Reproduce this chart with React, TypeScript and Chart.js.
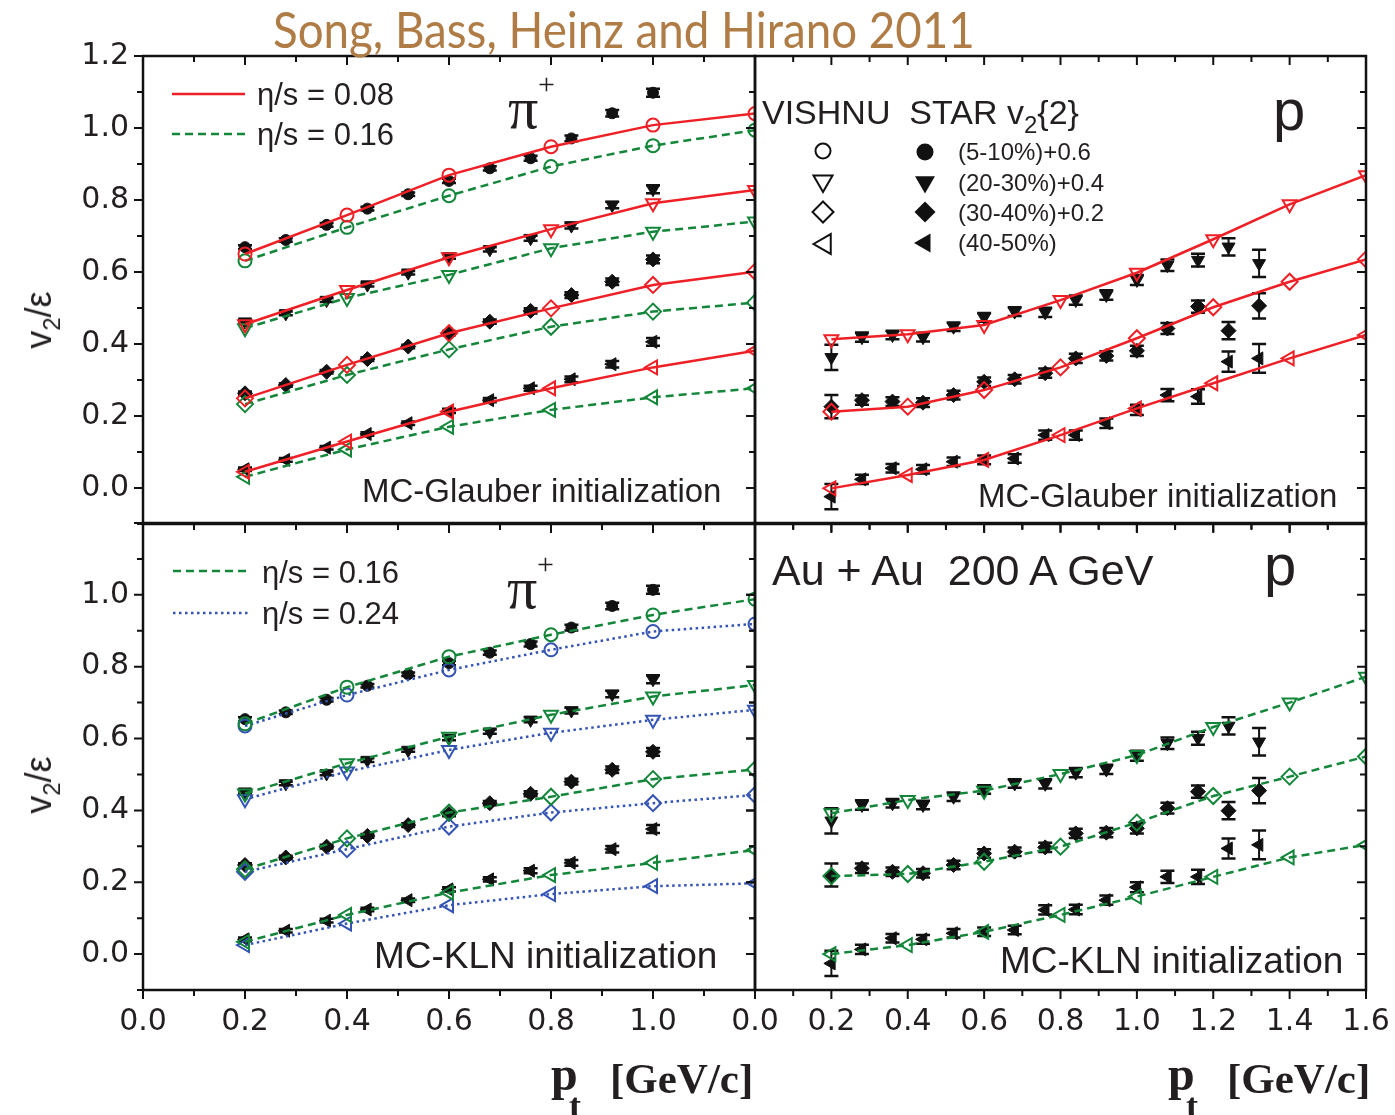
import React, { useEffect, useLayoutEffect, useRef, useState } from 'react';
import { Chart, registerables } from 'chart.js';
Chart.register(...registerables);

// ---------- x values ----------
const piHydroX = [0.2, 0.4, 0.6, 0.8, 1.0, 1.2];
const pHydroX = [0.2, 0.4, 0.6, 0.8, 1.0, 1.2, 1.4, 1.6];
const piStarX = [0.2, 0.28, 0.36, 0.44, 0.52, 0.6, 0.68, 0.76, 0.84, 0.92, 1.0];
const pStarX = [0.2, 0.28, 0.36, 0.44, 0.52, 0.6, 0.68, 0.76, 0.84, 0.92, 1.0, 1.08, 1.16, 1.24, 1.32];

// ---------- tick labels / tick marks ----------
const yTickLabelsTop = [0, 0.2, 0.4, 0.6, 0.8, 1.0, 1.2];
const yTickLabelsBottom = [0, 0.2, 0.4, 0.6, 0.8, 1.0];
const xTickLabelsLeft = [0, 0.2, 0.4, 0.6, 0.8, 1.0];
const xTickLabelsRight = [0, 0.2, 0.4, 0.6, 0.8, 1.0, 1.2, 1.4, 1.6];
const yTickMarks = [-0.1, 0, 0.1, 0.2, 0.3, 0.4, 0.5, 0.6, 0.7, 0.8, 0.9, 1.0, 1.1, 1.2];
const xTickMarksLeft = [0, 0.1, 0.2, 0.3, 0.4, 0.5, 0.6, 0.7, 0.8, 0.9, 1.0, 1.1, 1.2];
const xTickMarksRight = [0, 0.1, 0.2, 0.3, 0.4, 0.5, 0.6, 0.7, 0.8, 0.9, 1.0, 1.1, 1.2, 1.3, 1.4, 1.5, 1.6];

// ---------- MC-Glauber, pi+ ----------
const gPiStarC = [0.669, 0.689, 0.731, 0.776, 0.816, 0.853, 0.888, 0.916, 0.971, 1.041, 1.098];
const gPiStarT = [0.462, 0.485, 0.522, 0.565, 0.598, 0.643, 0.663, 0.694, 0.729, 0.786, 0.830];
const gPiStarD = [0.263, 0.286, 0.323, 0.358, 0.393, 0.430, 0.462, 0.492, 0.536, 0.573, 0.635];
const gPiStarL = [0.052, 0.078, 0.112, 0.150, 0.180, 0.214, 0.244, 0.277, 0.302, 0.344, 0.406];
const gPi08C = [0.650, 0.758, 0.869, 0.948, 1.008, 1.040];
const gPi08T = [0.455, 0.550, 0.641, 0.719, 0.791, 0.828];
const gPi08D = [0.249, 0.342, 0.430, 0.499, 0.564, 0.601];
const gPi08L = [0.045, 0.129, 0.212, 0.277, 0.335, 0.381];
const gPi16C = [0.631, 0.724, 0.812, 0.893, 0.951, 0.994];
const gPi16T = [0.444, 0.528, 0.592, 0.666, 0.712, 0.740];
const gPi16D = [0.233, 0.314, 0.385, 0.448, 0.490, 0.515];
const gPi16L = [0.031, 0.107, 0.170, 0.217, 0.252, 0.277];

// ---------- MC-Glauber, protons ----------
const gPStarT = [0.363, 0.419, 0.425, 0.419, 0.448, 0.474, 0.490, 0.488, 0.522, 0.536, 0.578, 0.619, 0.633, 0.670, 0.624];
const gPStarD = [0.226, 0.244, 0.240, 0.237, 0.258, 0.295, 0.302, 0.319, 0.360, 0.367, 0.381, 0.443, 0.504, 0.437, 0.506];
const gPStarL = [-0.024, 0.024, 0.055, 0.052, 0.073, 0.078, 0.082, 0.147, 0.147, 0.180, 0.217, 0.258, 0.254, 0.351, 0.360];
const gP08T = [0.413, 0.427, 0.453, 0.522, 0.598, 0.691, 0.788, 0.869];
const gP08D = [0.212, 0.226, 0.272, 0.335, 0.416, 0.502, 0.573, 0.635];
const gP08L = [-0.001, 0.036, 0.078, 0.147, 0.221, 0.291, 0.360, 0.425];

// ---------- MC-KLN, pi+ ----------
const kPiStarC = [0.654, 0.673, 0.708, 0.747, 0.779, 0.810, 0.839, 0.863, 0.909, 0.969, 1.014];
const kPiStarT = [0.452, 0.475, 0.503, 0.540, 0.568, 0.601, 0.619, 0.652, 0.678, 0.724, 0.765];
const kPiStarD = [0.248, 0.269, 0.299, 0.329, 0.359, 0.390, 0.420, 0.446, 0.480, 0.513, 0.563];
const kPiStarL = [0.041, 0.065, 0.093, 0.124, 0.150, 0.180, 0.208, 0.232, 0.254, 0.292, 0.348];
const kPi16C = [0.641, 0.743, 0.828, 0.889, 0.944, 0.988];
const kPi16T = [0.447, 0.531, 0.605, 0.666, 0.717, 0.749];
const kPi16D = [0.236, 0.322, 0.394, 0.438, 0.487, 0.514];
const kPi16L = [0.034, 0.109, 0.171, 0.220, 0.254, 0.290];
const kPi24C = [0.635, 0.721, 0.791, 0.847, 0.898, 0.919];
const kPi24T = [0.431, 0.508, 0.568, 0.616, 0.652, 0.680];
const kPi24D = [0.229, 0.292, 0.355, 0.394, 0.420, 0.443];
const kPi24L = [0.025, 0.085, 0.136, 0.167, 0.189, 0.197];

// ---------- MC-KLN, protons ----------
const kPStarT = [0.371, 0.415, 0.420, 0.415, 0.438, 0.458, 0.475, 0.474, 0.505, 0.514, 0.552, 0.587, 0.601, 0.635, 0.591];
const kPStarD = [0.220, 0.239, 0.229, 0.225, 0.248, 0.280, 0.285, 0.297, 0.336, 0.338, 0.350, 0.406, 0.452, 0.399, 0.455];
const kPStarL = [-0.026, 0.013, 0.044, 0.041, 0.058, 0.062, 0.067, 0.123, 0.124, 0.150, 0.186, 0.215, 0.215, 0.294, 0.304];
const kP16T = [0.392, 0.429, 0.455, 0.501, 0.554, 0.632, 0.700, 0.772];
const kP16D = [0.217, 0.223, 0.257, 0.299, 0.366, 0.440, 0.494, 0.550];
const kP16L = [0.000, 0.025, 0.062, 0.109, 0.160, 0.215, 0.269, 0.304];

// ---------- STAR errors ----------
const piStarErr = [0.005, 0.005, 0.005, 0.005, 0.005, 0.006, 0.006, 0.007, 0.008, 0.009, 0.011];
const pErrT = [0.035, 0.013, 0.012, 0.012, 0.012, 0.012, 0.012, 0.013, 0.013, 0.013, 0.014, 0.016, 0.018, 0.024, 0.038];
const pErrD = [0.032, 0.013, 0.012, 0.012, 0.012, 0.012, 0.012, 0.013, 0.013, 0.013, 0.014, 0.015, 0.017, 0.024, 0.035];
const pErrL = [0.035, 0.013, 0.012, 0.012, 0.012, 0.012, 0.012, 0.013, 0.013, 0.013, 0.014, 0.017, 0.020, 0.028, 0.040];

// ---------- styles ----------
const RED = '#ee2026';
const GREEN = '#13863a';
const BLUE = '#3454b4';
const INK = '#231f20';
const DASH = [8, 5];
const DOT = [2.5, 3.5];

type Sym = 'c' | 't' | 'd' | 'l';
const SYM: Record<Sym, { s: string; rot: number; rOpen: number; rFill: number }> = {
  c: { s: 'circle', rot: 0, rOpen: 6.5, rFill: 5.5 },
  t: { s: 'triangle', rot: 180, rOpen: 8, rFill: 7.5 },
  d: { s: 'rectRot', rot: 0, rOpen: 8, rFill: 7.5 },
  l: { s: 'triangle', rot: 270, rOpen: 8, rFill: 7.5 },
};

const pts = (xs: number[], ys: number[]) => xs.map((x, i) => ({ x, y: ys[i] }));

function starDs(xs: number[], ys: number[], errs: number[], sym: Sym) {
  const m = SYM[sym];
  return {
    data: pts(xs, ys),
    errors: errs,
    showLine: false,
    pointStyle: m.s,
    pointRotation: m.rot,
    pointRadius: m.rFill,
    pointBackgroundColor: '#111',
    pointBorderColor: '#111',
    pointBorderWidth: 1,
  };
}

function hydroDs(xs: number[], ys: number[], color: string, dash: number[], sym: Sym) {
  const m = SYM[sym];
  return {
    data: pts(xs, ys),
    showLine: true,
    borderColor: color,
    borderWidth: 2.5,
    borderDash: dash,
    tension: 0,
    pointStyle: m.s,
    pointRotation: m.rot,
    pointRadius: m.rOpen,
    pointBorderColor: color,
    pointBackgroundColor: 'rgba(255,255,255,0)',
    pointBorderWidth: 2,
  };
}

// ---------- plugins ----------
const errorBarPlugin = {
  id: 'errbars',
  beforeDatasetsDraw(chart: any) {
    const { ctx, chartArea: a } = chart;
    const xs = chart.scales.x;
    const ys = chart.scales.y;
    ctx.save();
    ctx.beginPath();
    ctx.rect(a.left, a.top, a.right - a.left, a.bottom - a.top);
    ctx.clip();
    ctx.strokeStyle = '#111';
    chart.data.datasets.forEach((ds: any) => {
      if (!ds.errors) return;
      ds.data.forEach((p: any, i: number) => {
        const e = ds.errors[i];
        const px = xs.getPixelForValue(p.x);
        const y1 = ys.getPixelForValue(p.y + e);
        const y2 = ys.getPixelForValue(p.y - e);
        ctx.lineWidth = 2;
        ctx.beginPath();
        ctx.moveTo(px, y1);
        ctx.lineTo(px, y2);
        ctx.stroke();
        ctx.lineWidth = 2.5;
        ctx.beginPath();
        ctx.moveTo(px - 7, y1);
        ctx.lineTo(px + 7, y1);
        ctx.moveTo(px - 7, y2);
        ctx.lineTo(px + 7, y2);
        ctx.stroke();
      });
    });
    ctx.restore();
  },
};

const isMajor = (v: number) => Math.abs(v * 5 - Math.round(v * 5)) < 1e-6;

function drawSymbol(ctx: CanvasRenderingContext2D, kind: Sym, x: number, y: number, r: number, filled: boolean) {
  ctx.beginPath();
  if (kind === 'c') {
    ctx.arc(x, y, r, 0, Math.PI * 2);
  } else if (kind === 't') {
    ctx.moveTo(x - r * 0.866, y - r * 0.5);
    ctx.lineTo(x + r * 0.866, y - r * 0.5);
    ctx.lineTo(x, y + r);
    ctx.closePath();
  } else if (kind === 'd') {
    ctx.moveTo(x, y - r);
    ctx.lineTo(x + r, y);
    ctx.lineTo(x, y + r);
    ctx.lineTo(x - r, y);
    ctx.closePath();
  } else {
    ctx.moveTo(x - r, y);
    ctx.lineTo(x + r * 0.5, y - r * 0.866);
    ctx.lineTo(x + r * 0.5, y + r * 0.866);
    ctx.closePath();
  }
  if (filled) {
    ctx.fillStyle = '#111';
    ctx.fill();
  } else {
    ctx.strokeStyle = '#111';
    ctx.lineWidth = 2;
    ctx.stroke();
  }
}

function legendLine(ctx: CanvasRenderingContext2D, x1: number, x2: number, y: number, color: string, dash: number[]) {
  ctx.save();
  ctx.strokeStyle = color;
  ctx.lineWidth = 2.5;
  ctx.setLineDash(dash);
  ctx.beginPath();
  ctx.moveTo(x1, y);
  ctx.lineTo(x2, y);
  ctx.stroke();
  ctx.restore();
}

type Panel = {
  area: { l: number; t: number; r: number; b: number };
  xMax: number;
  xMarks: number[];
  xLabels: number[] | null;
  yLabels: number[] | null;
  datasets: any[];
  extra?: (ctx: CanvasRenderingContext2D) => void;
};

function framePlugin(p: Panel) {
  return {
    id: 'frame',
    afterDraw(chart: any) {
      const { ctx, chartArea: a } = chart;
      const xs = chart.scales.x;
      const ys = chart.scales.y;
      ctx.save();
      ctx.strokeStyle = '#111';
      ctx.lineWidth = 2;
      ctx.beginPath();
      p.xMarks.forEach((v) => {
        const px = xs.getPixelForValue(v);
        const L = isMajor(v) ? 9 : 6;
        ctx.moveTo(px, a.bottom);
        ctx.lineTo(px, a.bottom + L);
        ctx.moveTo(px, a.top);
        ctx.lineTo(px, a.top + L);
      });
      yTickMarks.forEach((v) => {
        const py = ys.getPixelForValue(v);
        const L = isMajor(v) ? 9 : 6;
        ctx.moveTo(a.left - L, py);
        ctx.lineTo(a.left, py);
        ctx.moveTo(a.right - L, py);
        ctx.lineTo(a.right, py);
      });
      ctx.stroke();
      ctx.lineWidth = 2.5;
      ctx.strokeRect(a.left, a.top, a.right - a.left, a.bottom - a.top);
      if (p.extra) p.extra(ctx);
      ctx.restore();
    },
  };
}

const TICK_FONT = { family: "'DejaVu Sans', 'Liberation Sans', sans-serif", size: 30 };
// canvases are a bit wider than the page so that Chart.js' label overflow padding
// never pushes the right edge of the plot area inwards; the page clips the excess.
const CW = 1460;
const CH = 1115;

function makeConfig(p: Panel): any {
  const W = 60;
  const H = 50;
  const showX = !!p.xLabels;
  const showY = !!p.yLabels;
  const padding = {
    left: showY ? p.area.l - W : p.area.l,
    top: p.area.t,
    right: CW - p.area.r,
    bottom: showX ? CH - p.area.b - H : CH - p.area.b,
  };
  return {
    type: 'line',
    data: { datasets: p.datasets },
    options: {
      responsive: false,
      animation: false,
      events: [],
      layout: { padding, autoPadding: false },
      plugins: { legend: { display: false }, tooltip: { enabled: false } },
      scales: {
        x: {
          type: 'linear',
          min: 0,
          max: p.xMax,
          display: showX,
          grid: { display: false, drawTicks: false },
          border: { display: false },
          afterBuildTicks: (s: any) => {
            s.ticks = (p.xLabels || xTickLabelsLeft).map((v) => ({ value: v }));
          },
          afterFit: (s: any) => {
            s.height = showX ? H : 0;
          },
          ticks: {
            autoSkip: false,
            maxRotation: 0,
            minRotation: 0,
            padding: 14,
            color: INK,
            font: TICK_FONT,
            callback: (v: any) => Number(v).toFixed(1),
          },
        },
        y: {
          type: 'linear',
          min: -0.1,
          max: 1.2,
          display: showY,
          grid: { display: false, drawTicks: false },
          border: { display: false },
          afterBuildTicks: (s: any) => {
            s.ticks = (p.yLabels || yTickLabelsTop).map((v) => ({ value: v }));
          },
          afterFit: (s: any) => {
            s.width = showY ? W : 0;
          },
          ticks: {
            autoSkip: false,
            padding: 14,
            color: INK,
            font: TICK_FONT,
            callback: (v: any) => Number(v).toFixed(1),
          },
        },
      },
    },
    plugins: [errorBarPlugin, framePlugin(p)],
  };
}

// ---------- panels ----------
const panelTL: Panel = {
  area: { l: 143, t: 56, r: 755, b: 524 },
  xMax: 1.2,
  xMarks: xTickMarksLeft,
  xLabels: null,
  yLabels: yTickLabelsTop,
  datasets: [
    hydroDs(piHydroX, gPi08C, RED, [], 'c'),
    hydroDs(piHydroX, gPi08T, RED, [], 't'),
    hydroDs(piHydroX, gPi08D, RED, [], 'd'),
    hydroDs(piHydroX, gPi08L, RED, [], 'l'),
    hydroDs(piHydroX, gPi16C, GREEN, DASH, 'c'),
    hydroDs(piHydroX, gPi16T, GREEN, DASH, 't'),
    hydroDs(piHydroX, gPi16D, GREEN, DASH, 'd'),
    hydroDs(piHydroX, gPi16L, GREEN, DASH, 'l'),
    starDs(piStarX, gPiStarC, piStarErr, 'c'),
    starDs(piStarX, gPiStarT, piStarErr, 't'),
    starDs(piStarX, gPiStarD, piStarErr, 'd'),
    starDs(piStarX, gPiStarL, piStarErr, 'l'),
  ],
  extra: (ctx) => {
    legendLine(ctx, 172, 245, 94, RED, []);
    legendLine(ctx, 172, 247, 134, GREEN, DASH);
  },
};

const panelTR: Panel = {
  area: { l: 755, t: 56, r: 1366, b: 524 },
  xMax: 1.6,
  xMarks: xTickMarksRight,
  xLabels: null,
  yLabels: null,
  datasets: [
    hydroDs(pHydroX, gP08T, RED, [], 't'),
    hydroDs(pHydroX, gP08D, RED, [], 'd'),
    hydroDs(pHydroX, gP08L, RED, [], 'l'),
    starDs(pStarX, gPStarT, pErrT, 't'),
    starDs(pStarX, gPStarD, pErrD, 'd'),
    starDs(pStarX, gPStarL, pErrL, 'l'),
  ],
  extra: (ctx) => {
    drawSymbol(ctx, 'c', 823, 151, 7.5, false);
    drawSymbol(ctx, 't', 823, 181, 11, false);
    drawSymbol(ctx, 'd', 823, 212, 10.5, false);
    drawSymbol(ctx, 'l', 825, 244, 11.5, false);
    drawSymbol(ctx, 'c', 925, 152, 8.5, true);
    drawSymbol(ctx, 't', 925, 182, 11.5, true);
    drawSymbol(ctx, 'd', 925, 212, 10.5, true);
    drawSymbol(ctx, 'l', 925, 243, 11, true);
  },
};

const panelBL: Panel = {
  area: { l: 143, t: 523, r: 755, b: 990 },
  xMax: 1.2,
  xMarks: xTickMarksLeft,
  xLabels: xTickLabelsLeft,
  yLabels: yTickLabelsBottom,
  datasets: [
    hydroDs(piHydroX, kPi16C, GREEN, DASH, 'c'),
    hydroDs(piHydroX, kPi16T, GREEN, DASH, 't'),
    hydroDs(piHydroX, kPi16D, GREEN, DASH, 'd'),
    hydroDs(piHydroX, kPi16L, GREEN, DASH, 'l'),
    hydroDs(piHydroX, kPi24C, BLUE, DOT, 'c'),
    hydroDs(piHydroX, kPi24T, BLUE, DOT, 't'),
    hydroDs(piHydroX, kPi24D, BLUE, DOT, 'd'),
    hydroDs(piHydroX, kPi24L, BLUE, DOT, 'l'),
    starDs(piStarX, kPiStarC, piStarErr, 'c'),
    starDs(piStarX, kPiStarT, piStarErr, 't'),
    starDs(piStarX, kPiStarD, piStarErr, 'd'),
    starDs(piStarX, kPiStarL, piStarErr, 'l'),
  ],
  extra: (ctx) => {
    legendLine(ctx, 173, 250, 571, GREEN, DASH);
    legendLine(ctx, 173, 250, 613, BLUE, DOT);
  },
};

const panelBR: Panel = {
  area: { l: 755, t: 523, r: 1366, b: 990 },
  xMax: 1.6,
  xMarks: xTickMarksRight,
  xLabels: xTickLabelsRight,
  yLabels: null,
  datasets: [
    hydroDs(pHydroX, kP16T, GREEN, DASH, 't'),
    hydroDs(pHydroX, kP16D, GREEN, DASH, 'd'),
    hydroDs(pHydroX, kP16L, GREEN, DASH, 'l'),
    starDs(pStarX, kPStarT, pErrT, 't'),
    starDs(pStarX, kPStarD, pErrD, 'd'),
    starDs(pStarX, kPStarL, pErrL, 'l'),
  ],
};

// ---------- text helpers ----------
const SANS = "'Liberation Sans', Arial, sans-serif";
const SERIF = "'Liberation Serif', 'Times New Roman', serif";
const LATO = "Lato, 'Open Sans', sans-serif";
const BASE: Record<string, number> = { [SANS]: 0.8465, [SERIF]: 0.8375, [LATO]: 0.887 };

function Txt(props: {
  x: number;
  base: number;
  size: number;
  font?: string;
  color?: string;
  weight?: any;
  fitW?: number;
  children: React.ReactNode;
}) {
  const font = props.font || SANS;
  const ref = useRef<HTMLDivElement>(null);
  const [sx, setSx] = useState(1);
  useLayoutEffect(() => {
    if (props.fitW && ref.current) {
      const w = ref.current.offsetWidth;
      if (w > 0) setSx(props.fitW / w);
    }
  }, [props.fitW]);
  return (
    <div
      ref={ref}
      style={{
        position: 'absolute',
        left: props.x,
        top: props.base - (BASE[font] || 0.845) * props.size,
        fontSize: props.size,
        lineHeight: `${props.size}px`,
        fontFamily: font,
        color: props.color || INK,
        fontWeight: props.weight || 'normal',
        whiteSpace: 'pre',
        display: 'inline-block',
        transform: `scaleX(${sx})`,
        transformOrigin: '0 0',
      }}
    >
      {props.children}
    </div>
  );
}

function YTitle({ cx, cy }: { cx: number; cy: number }) {
  return (
    <div
      style={{
        position: 'absolute',
        left: cx,
        top: cy,
        transform: 'translate(-50%, -50%) rotate(-90deg)',
        fontFamily: SANS,
        fontSize: 36,
        lineHeight: '40px',
        color: INK,
        whiteSpace: 'pre',
      }}
    >
      v<span style={{ fontSize: 24, position: 'relative', top: 9 }}>2</span>/ε
    </div>
  );
}

function PtTitle({ x }: { x: number }) {
  return (
    <>
      <Txt x={x} base={1090} size={48} font={SERIF} weight="bold">p</Txt>
      <Txt x={x + 18} base={1118} size={36} font={SERIF} weight="bold">t</Txt>
      <Txt x={x + 59} base={1093} size={43} font={SERIF} weight="bold">[GeV/c]</Txt>
    </>
  );
}

function PiLabel({ x, base }: { x: number; base: number }) {
  return (
    <>
      <Txt x={x} base={base} size={60} font={SERIF}>π</Txt>
      <Txt x={x + 30} base={base - 34} size={30} font={SERIF}>+</Txt>
    </>
  );
}

export default function App() {
  const r1 = useRef<HTMLCanvasElement>(null);
  const r2 = useRef<HTMLCanvasElement>(null);
  const r3 = useRef<HTMLCanvasElement>(null);
  const r4 = useRef<HTMLCanvasElement>(null);

  useEffect(() => {
    const charts = [
      new Chart(r1.current as HTMLCanvasElement, makeConfig(panelTL)),
      new Chart(r2.current as HTMLCanvasElement, makeConfig(panelTR)),
      new Chart(r3.current as HTMLCanvasElement, makeConfig(panelBL)),
      new Chart(r4.current as HTMLCanvasElement, makeConfig(panelBR)),
    ];
    return () => charts.forEach((c) => c.destroy());
  }, []);

  const cv: React.CSSProperties = { position: 'absolute', left: 0, top: 0 };

  return (
    <div style={{ position: 'absolute', left: 0, top: 0, width: 1395, height: 1115, background: '#fff', overflow: 'hidden' }}>
      <canvas ref={r1} width={CW} height={CH} style={cv} />
      <canvas ref={r2} width={CW} height={CH} style={cv} />
      <canvas ref={r3} width={CW} height={CH} style={cv} />
      <canvas ref={r4} width={CW} height={CH} style={cv} />

      <Txt x={273} base={48} size={50} font={LATO} color="#b07c46" fitW={702}>Song, Bass, Heinz and Hirano 2011</Txt>

      {/* top-left */}
      <Txt x={257} base={105} size={31}>η/s = 0.08</Txt>
      <Txt x={257} base={145} size={31}>η/s = 0.16</Txt>
      <PiLabel x={508} base={128} />
      <Txt x={362} base={502} size={33}>MC-Glauber initialization</Txt>

      {/* top-right */}
      <Txt x={762} base={124} size={34}>
        {'VISHNU  STAR v'}
        <span style={{ fontSize: 24, position: 'relative', top: 9 }}>2</span>
        {'{2}'}
      </Txt>
      <Txt x={958} base={160} size={24}>(5-10%)+0.6</Txt>
      <Txt x={958} base={191} size={24}>(20-30%)+0.4</Txt>
      <Txt x={958} base={221} size={24}>(30-40%)+0.2</Txt>
      <Txt x={958} base={251} size={24}>(40-50%)</Txt>
      <Txt x={1273} base={130} size={58}>p</Txt>
      <Txt x={978} base={507} size={33}>MC-Glauber initialization</Txt>

      {/* bottom-left */}
      <Txt x={262} base={583} size={31}>η/s = 0.16</Txt>
      <Txt x={262} base={624} size={31}>η/s = 0.24</Txt>
      <PiLabel x={507} base={608} />
      <Txt x={374} base={968} size={37}>MC-KLN initialization</Txt>

      {/* bottom-right */}
      <Txt x={772} base={585} size={43}>Au + Au  200 A GeV</Txt>
      <Txt x={1264} base={585} size={58}>p</Txt>
      <Txt x={1000} base={973} size={37}>MC-KLN initialization</Txt>

      {/* axis titles */}
      <YTitle cx={41} cy={320} />
      <YTitle cx={41} cy={785} />
      <PtTitle x={551} />
      <PtTitle x={1168} />
    </div>
  );
}
